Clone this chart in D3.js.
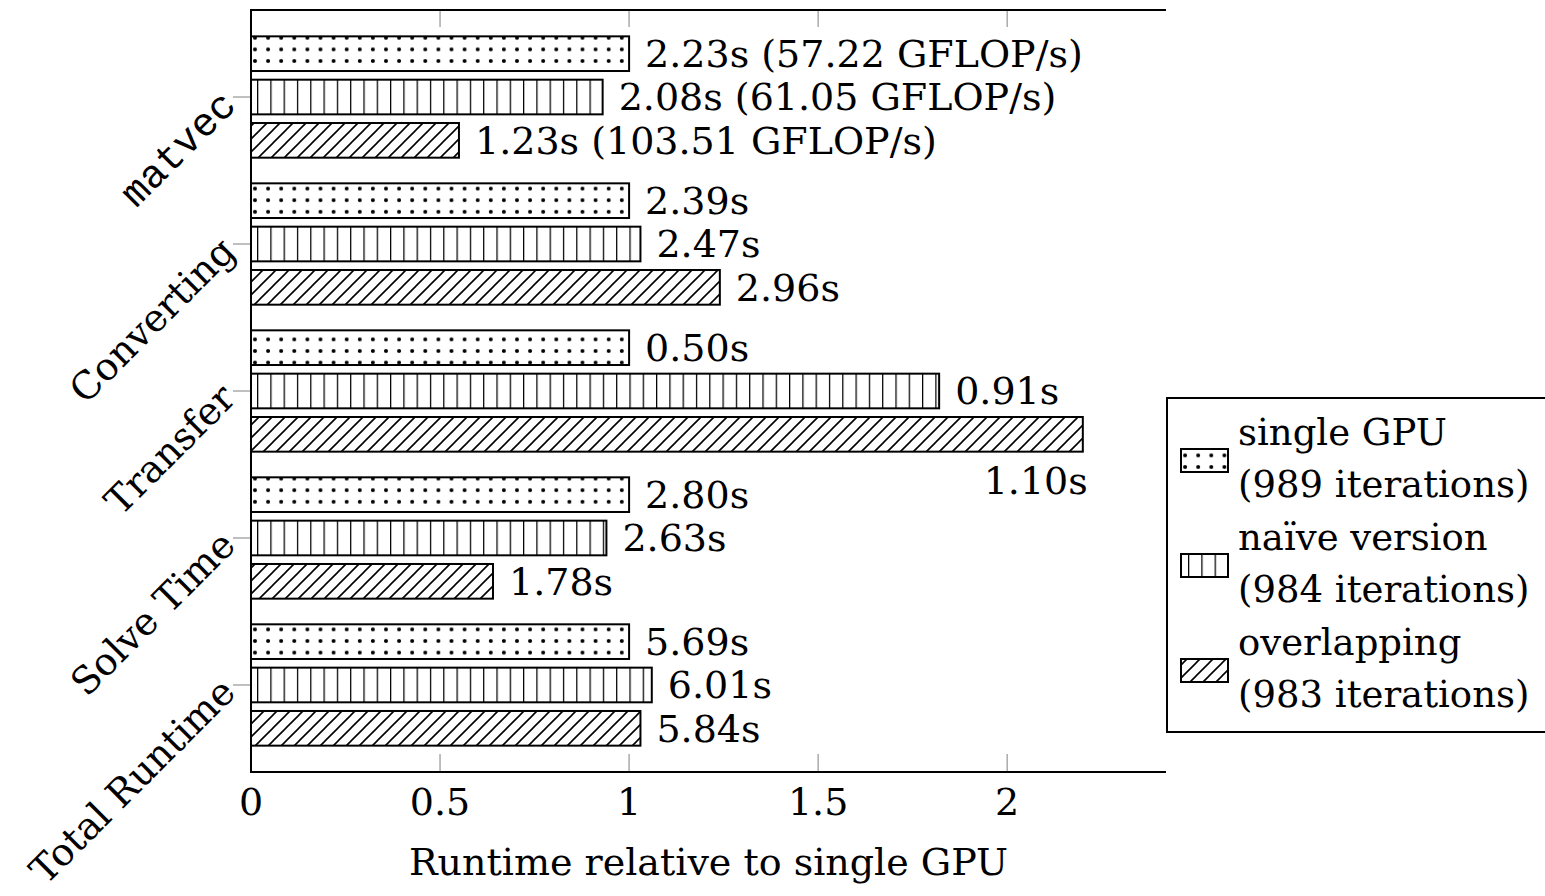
<!DOCTYPE html>
<html>
<head>
<meta charset="utf-8">
<script src="https://cdn.jsdelivr.net/npm/d3@7"></script>
<style>
  body { margin: 0; background: #fff; }
  text { font-family: "DejaVu Serif", serif; fill: #000; }
</style>
</head>
<body>
<script>
var categories = ["matvec", "Converting", "Transfer", "Solve Time", "Total Runtime"];
var seriesNames = ["single GPU", "naïve version", "overlapping"];
var seriesIters = ["(989 iterations)", "(984 iterations)", "(983 iterations)"];

// runtime relative to single GPU
var singleRel  = [1.00, 1.00, 1.00, 1.00, 1.00];
var naiveRel   = [0.93, 1.03, 1.82, 0.94, 1.06];
var overlapRel = [0.55, 1.24, 2.20, 0.64, 1.03];

var singleLabels  = ["2.23s (57.22 GFLOP/s)", "2.39s", "0.50s", "2.80s", "5.69s"];
var naiveLabels   = ["2.08s (61.05 GFLOP/s)", "2.47s", "0.91s", "2.63s", "6.01s"];
var overlapLabels = ["1.23s (103.51 GFLOP/s)", "2.96s", "1.10s", "1.78s", "5.84s"];

var xTicks = [0, 0.5, 1, 1.5, 2];

var patterns = ["dots", "vlines", "hatch"];
var rel = [singleRel, naiveRel, overlapRel];
var labels = [singleLabels, naiveLabels, overlapLabels];

var W = 1545, H = 896;
var pLeft = 251, pRight = 1166, pTop = 10, pBottom = 772;

var svg = d3.select("body").append("svg")
    .attr("width", W)
    .attr("height", H);

// fill patterns
var defs = svg.append("defs");
var pd = defs.append("pattern").attr("id", "dots")
    .attr("patternUnits", "userSpaceOnUse")
    .attr("x", 255).attr("y", 3)
    .attr("width", 13.1).attr("height", 11.6);
[[0, 0], [13.1, 0], [0, 11.6], [13.1, 11.6]].forEach(function(p) {
  pd.append("circle").attr("cx", p[0]).attr("cy", p[1]).attr("r", 2).attr("fill", "#000");
});

var pv = defs.append("pattern").attr("id", "vlines")
    .attr("patternUnits", "userSpaceOnUse")
    .attr("x", 257).attr("y", 0)
    .attr("width", 13.3).attr("height", 20);
pv.append("line").attr("x1", 0).attr("y1", 0).attr("x2", 0).attr("y2", 20)
    .attr("stroke", "#000").attr("stroke-width", 2.5);

var ph = defs.append("pattern").attr("id", "hatch")
    .attr("patternUnits", "userSpaceOnUse")
    .attr("width", 13).attr("height", 13);
ph.append("path").attr("d", "M-3,3 L3,-3 M0,13 L13,0 M10,16 L16,10")
    .attr("stroke", "#000").attr("stroke-width", 1.6);

var x = d3.scaleLinear().domain([0, 2.42]).range([pLeft, pRight]);
var y = d3.scalePoint().domain(categories).range([pTop, pBottom]).padding(0.592);
var sub = d3.scaleBand().domain(d3.range(3)).range([-65, 65])
    .paddingInner(0.2).paddingOuter(0.1);

// ticks
var tickCol = "#aaa";
svg.append("g").selectAll("line").data(xTicks.slice(1)).enter().append("line")
    .attr("x1", function(d) { return x(d); }).attr("x2", function(d) { return x(d); })
    .attr("y1", pBottom).attr("y2", pBottom - 18)
    .attr("stroke", tickCol).attr("stroke-width", 1.5);
svg.append("g").selectAll("line").data(xTicks.slice(1)).enter().append("line")
    .attr("x1", function(d) { return x(d); }).attr("x2", function(d) { return x(d); })
    .attr("y1", pTop).attr("y2", pTop + 17)
    .attr("stroke", tickCol).attr("stroke-width", 1.5);
svg.append("g").selectAll("line").data(categories).enter().append("line")
    .attr("x1", pLeft - 18).attr("x2", pLeft)
    .attr("y1", function(d) { return y(d); }).attr("y2", function(d) { return y(d); })
    .attr("stroke", tickCol).attr("stroke-width", 1.5);

// bars
var bars = [];
categories.forEach(function(c, i) {
  for (var s = 0; s < 3; s++) {
    bars.push({cat: c, s: s, v: rel[s][i], label: labels[s][i]});
  }
});

svg.append("g").selectAll("rect").data(bars).enter().append("rect")
    .attr("x", x(0))
    .attr("y", function(d) { return y(d.cat) + sub(d.s); })
    .attr("width", function(d) { return x(d.v) - x(0); })
    .attr("height", sub.bandwidth())
    .attr("fill", function(d) { return "url(#" + patterns[d.s] + ")"; })
    .attr("stroke", "#000").attr("stroke-width", 2);

var fs = 38;
svg.append("g").selectAll("text").data(bars).enter().append("text")
    .style("font-size", fs + "px")
    .text(function(d) { return d.label; })
    .each(function(d) {
      var t = d3.select(this);
      var w = this.getComputedTextLength();
      var xe = x(d.v);
      var yc = y(d.cat) + sub(d.s) + sub.bandwidth() / 2;
      if (xe + 16 + w > pRight) {
        // no room: put under the bar end
        t.attr("x", xe + 5).attr("y", yc + 60).attr("text-anchor", "end");
      } else {
        t.attr("x", xe + 16).attr("y", yc).attr("dy", "0.35em");
      }
    });

// axis lines
svg.append("path")
    .attr("d", "M" + pRight + "," + pTop + "H" + pLeft + "V" + pBottom + "H" + pRight)
    .attr("fill", "none").attr("stroke", "#000").attr("stroke-width", 2);

// x tick labels
svg.append("g").selectAll("text").data(xTicks).enter().append("text")
    .attr("x", function(d) { return x(d); })
    .attr("y", 815)
    .attr("text-anchor", "middle")
    .style("font-size", fs + "px")
    .text(function(d) { return d; });

svg.append("text")
    .attr("x", (pLeft + pRight) / 2)
    .attr("y", 875)
    .attr("text-anchor", "middle")
    .style("font-size", fs + "px")
    .text("Runtime relative to single GPU");

// y labels, rotated
svg.append("g").selectAll("text").data(categories).enter().append("text")
    .attr("transform", function(d) { return "translate(228," + y(d) + ") rotate(-45)"; })
    .attr("text-anchor", "end")
    .attr("dy", "0.35em")
    .style("font-size", function(d) { return d === "matvec" ? "40px" : fs + "px"; })
    .style("font-family", function(d) { return d === "matvec" ? "'Liberation Mono', monospace" : null; })
    .text(function(d) { return d; });

// legend
var lg = svg.append("g");
lg.append("rect")
    .attr("x", 1167).attr("y", 398).attr("width", 400).attr("height", 334)
    .attr("fill", "#fff").attr("stroke", "#000").attr("stroke-width", 2);
seriesNames.forEach(function(n, i) {
  var by = 445 + i * 105;
  lg.append("rect")
      .attr("x", 1181).attr("y", by + 4).attr("width", 47).attr("height", 23)
      .attr("fill", "url(#" + patterns[i] + ")")
      .attr("stroke", "#000").attr("stroke-width", 2);
  lg.append("text").attr("x", 1238).attr("y", by)
      .style("font-size", "37px").text(n);
  lg.append("text").attr("x", 1238).attr("y", by + 52)
      .style("font-size", "37px").text(seriesIters[i]);
});
</script>
</body>
</html>
